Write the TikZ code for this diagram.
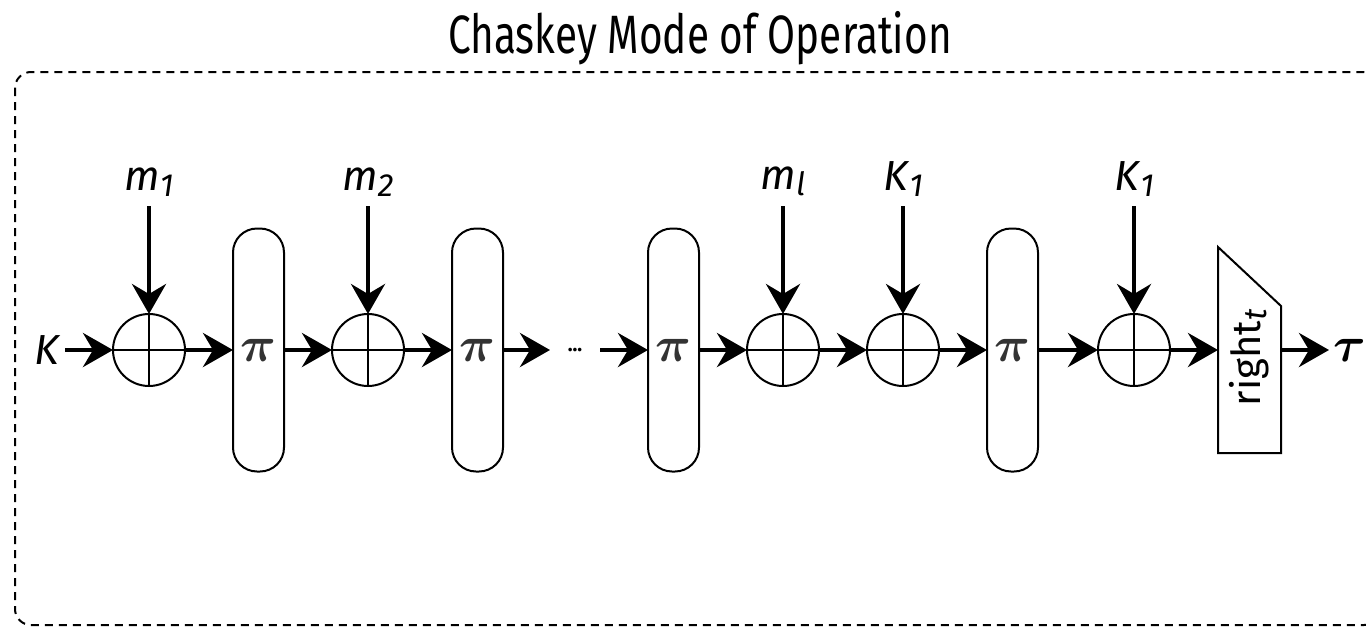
\documentclass[tikz,border=0pt]{standalone}
\usepackage{amsmath,bm}
\usepackage{fontspec}
\setmainfont{Fira Sans}
\usetikzlibrary{positioning,arrows.meta,calc}

\newcommand{\inlbl}[2]{\textit{#1}\raisebox{-3pt}{\fontsize{16}{16}\selectfont\textit{#2}}}

\begin{document}
\begin{tikzpicture}[
    >={Stealth[length=15pt,width=17pt,inset=5pt]},->,
    line width=2pt,
    node distance=24pt,
    every node/.style={outer sep=0pt},
    xor/.style={draw, circle, line width=1pt, minimum size=36pt, inner sep=0pt},
    perm/.style={draw, rounded corners=12pt, line width=1pt, minimum width=25.5pt, minimum height=121.5pt, inner sep=0pt, font=\fontsize{28}{30}\selectfont, text=black!80},
    inlabel/.style={inner xsep=2pt, inner ysep=5pt, font=\fontsize{21}{24}\selectfont}
]
    \useasboundingbox (0,0) rectangle (683pt,-313.5pt);

    \node (title) at (350pt,-19pt) {\scalebox{0.75}[1]{\fontsize{27}{30}\selectfont Chaskey Mode of Operation}};
    \draw[-, line width=1pt, dash pattern=on 4pt off 3pt, rounded corners=8pt]
        (7.5pt,-36pt) rectangle (690pt,-312.5pt);

    \node[xor]  (xor1)  at (74.5pt,-175pt)   {};
    \node[inlabel, inner ysep=2pt] (key) [left=of xor1]  {\textit{K}};
    \node[perm] (pi1)   [right=of xor1]    {$\bm{\pi}$};
    \node[xor]  (xor2)  [right=of pi1]     {};
    \node[perm] (pi2)   [right=of xor2]    {$\bm{\pi}$};
    \node[minimum width=25pt, inner sep=0pt] (dots) [right=23.5pt of pi2] {\textbf{...}};
    \node[perm] (pi3)   [right=of dots]    {$\bm{\pi}$};
    \node[xor]  (xor3)  [right=of pi3]     {};
    \node[xor]  (xor4)  [right=of xor3]    {};
    \node[perm] (pi4)   [right=of xor4]    {$\bm{\pi}$};
    \node[xor]  (xor5)  [right=30pt of pi4] {};
    \node[minimum width=31.5pt, minimum height=103pt, inner sep=0pt, font=\fontsize{20}{22}\selectfont]
                (trunc) [right=of xor5]    {\rotatebox{90}{right\raisebox{-3pt}{\fontsize{16}{16}\selectfont\textit{t}}\hspace{8pt}}};
    \node[inlabel, inner ysep=2pt, font=\fontsize{24}{26}\selectfont] (tag) [right=of trunc] {$\bm{\tau}$};

    % message and key inputs
    \node[inlabel] (in1) [above=54pt of xor1] {\inlbl{m}{1}};
    \node[inlabel] (in2) [above=54pt of xor2] {\inlbl{m}{2}};
    \node[inlabel] (in3) [above=54pt of xor3] {\inlbl{m}{l}};
    \node[inlabel] (in4) [above=54pt of xor4] {\inlbl{K}{1}};
    \node[inlabel] (in5) [above=54pt of xor5] {\inlbl{K}{1}};

    \foreach \n in {xor1,xor2,xor3,xor4,xor5}
        \draw[-, line width=1pt] (\n.north) -- (\n.south) (\n.west) -- (\n.east);

    \draw[-, line width=1pt] (trunc.north west) -- ($(trunc.north east)+(0,-29.5pt)$)
        -- (trunc.south east) -- (trunc.south west) -- cycle;

    \path (key)  edge (xor1)
          (xor1) edge (pi1)
          (pi1)  edge (xor2)
          (xor2) edge (pi2)
          (pi2)  edge (dots)
          (dots) edge (pi3)
          (pi3)  edge (xor3)
          (xor3) edge (xor4)
          (xor4) edge (pi4)
          (pi4)  edge (xor5)
          (xor5) edge (trunc)
          (trunc) edge (tag);

    \foreach \i in {1,...,5}
        \draw (in\i) -- (xor\i);
\end{tikzpicture}
\end{document}
